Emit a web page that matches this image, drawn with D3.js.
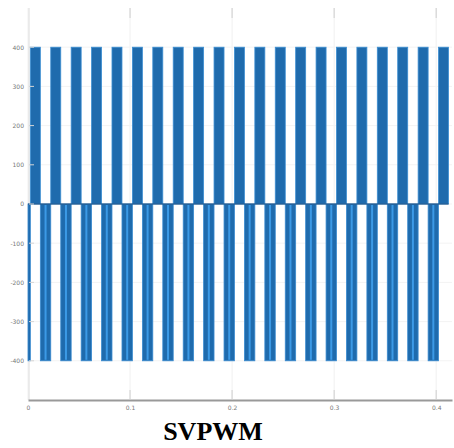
<!DOCTYPE html>
<html>
<head>
<meta charset="utf-8">
<script src="https://cdn.jsdelivr.net/npm/d3@7/dist/d3.min.js"></script>
<style>
  html, body { margin: 0; padding: 0; background: #fff; }
  svg { display: block; }
</style>
</head>
<body>
<svg id="chart" width="454" height="448"></svg>
<script>
// ---- data ----
// switching instants (s) of the square-wave inverter output
const switchTimes = [
  0.0000, 0.0023, 0.0121, 0.0223, 0.0321, 0.0423, 0.0521, 0.0623, 0.0721, 0.0823, 0.0921,
  0.1023, 0.1121, 0.1223, 0.1321, 0.1423, 0.1521, 0.1623, 0.1721, 0.1823, 0.1921,
  0.2023, 0.2121, 0.2223, 0.2321, 0.2423, 0.2521, 0.2623, 0.2721, 0.2823, 0.2921,
  0.3023, 0.3121, 0.3223, 0.3321, 0.3423, 0.3521, 0.3623, 0.3721, 0.3823, 0.3921,
  0.4023, 0.4121
];
// voltage level held from each switching instant to the next (V)
const levels = [
  -400, 400, -400, 400, -400, 400, -400, 400, -400, 400, -400,
  400, -400, 400, -400, 400, -400, 400, -400, 400, -400,
  400, -400, 400, -400, 400, -400, 400, -400, 400, -400,
  400, -400, 400, -400, 400, -400, 400, -400, 400, -400,
  400
];
const xTicks = [0, 0.1, 0.2, 0.3, 0.4];
const xTickLabels = ["0", "0.1", "0.2", "0.3", "0.4"];
const yTicks = [400, 300, 200, 100, 0, -100, -200, -300, -400];
const yTickLabels = ["400", "300", "200", "100", "0", "-100", "-200", "-300", "-400"];
const titleText = "SVPWM";

(function () {
// ---- layout ----
const svg = d3.select("#chart");
const mLeft = 28, mRight = 452, mTop = 8, mBottom = 400;
const x = d3.scaleLinear().domain([0, 0.4155]).range([mLeft, mRight]);
const y = d3.scaleLinear().domain([-500, 500]).range([mBottom, mTop]);

// grid
const grid = svg.append("g");
grid.selectAll("line.vg").data(xTicks).join("line")
  .attr("x1", d => x(d)).attr("x2", d => x(d))
  .attr("y1", mTop).attr("y2", mBottom)
  .attr("stroke", "#f0f0f0").attr("stroke-width", 1);
grid.selectAll("line.hg").data(yTicks).join("line")
  .attr("x1", mLeft).attr("x2", mRight)
  .attr("y1", d => y(d)).attr("y2", d => y(d))
  .attr("stroke", "#f3f3f3").attr("stroke-width", 1);

// left border
svg.append("line")
  .attr("x1", mLeft + 1).attr("x2", mLeft + 1)
  .attr("y1", mTop).attr("y2", mBottom)
  .attr("stroke", "#dcdcdc");

// segments
const segs = levels.map((v, i) => ({ t0: switchTimes[i], t1: switchTimes[i + 1], v }));
const marks = svg.append("g");
const pos = segs.filter(s => s.v > 0), neg = segs.filter(s => s.v < 0);

marks.selectAll("rect.pos").data(pos).join("rect")
  .attr("x", d => x(d.t0)).attr("width", d => x(d.t1) - x(d.t0))
  .attr("y", d => y(d.v)).attr("height", d => y(0) - y(d.v))
  .attr("fill", "#1f6bad").attr("stroke", "#3d8fd3").attr("stroke-width", 0.8);

marks.selectAll("rect.neg").data(neg).join("rect")
  .attr("x", d => x(d.t0)).attr("width", d => Math.max(0.8, x(d.t1) - x(d.t0)))
  .attr("y", y(0)).attr("height", d => y(d.v) - y(0))
  .attr("fill", "#1f6bad").attr("stroke", "#3a8bd0").attr("stroke-width", 0.8);

// light centre stripe in negative pulses
marks.selectAll("rect.stripe").data(neg.filter(d => d.t1 - d.t0 > 0.005)).join("rect")
  .attr("x", d => (x(d.t0) + x(d.t1)) / 2 - 1)
  .attr("width", 2)
  .attr("y", y(0) + 1).attr("height", d => y(d.v) - y(0) - 2)
  .attr("fill", "#3c9ae6");

// zero line
svg.append("line")
  .attr("x1", x(0)).attr("x2", x(switchTimes[switchTimes.length - 1]))
  .attr("y1", y(0)).attr("y2", y(0))
  .attr("stroke", "#1d4f80").attr("stroke-width", 1);

// bottom axis
const xAxis = d3.axisBottom(x).tickValues(xTicks)
  .tickFormat((d, i) => xTickLabels[i]).tickSize(0).tickPadding(6);
const gx = svg.append("g").attr("transform", `translate(0,${mBottom})`).call(xAxis);
gx.select(".domain").attr("stroke", "#999").attr("stroke-width", 2);
gx.selectAll("text").attr("font-family", "DejaVu Sans").attr("font-size", 6).attr("fill", "#777");

// inner tick marks top and bottom
svg.append("g").selectAll("line").data(xTicks.slice(1)).join("line")
  .attr("x1", d => x(d)).attr("x2", d => x(d))
  .attr("y1", mBottom - 10).attr("y2", mBottom)
  .attr("stroke", "#d0d0d0");
svg.append("g").selectAll("line").data(xTicks.slice(1)).join("line")
  .attr("x1", d => x(d)).attr("x2", d => x(d))
  .attr("y1", mTop).attr("y2", mTop + 10)
  .attr("stroke", "#cfcfcf");

// left axis
const yAxis = d3.axisLeft(y).tickValues(yTicks)
  .tickFormat((d, i) => yTickLabels[i]).tickSize(0).tickPadding(4);
const gy = svg.append("g").attr("transform", `translate(${mLeft},0)`).call(yAxis);
gy.select(".domain").remove();
gy.selectAll("text").attr("font-family", "DejaVu Sans").attr("font-size", 6).attr("fill", "#777");

// small inner y tick marks
svg.append("g").selectAll("line").data(yTicks).join("line")
  .attr("x1", mLeft + 1).attr("x2", mLeft + 6)
  .attr("y1", d => y(d)).attr("y2", d => y(d))
  .attr("stroke", "#d5d5d5");

// title
svg.append("text")
  .attr("x", 213).attr("y", 440)
  .attr("text-anchor", "middle")
  .attr("font-family", "Liberation Serif")
  .attr("font-weight", "bold")
  .attr("font-size", 26)
  .attr("fill", "#000")
  .text(titleText);
})();
</script>
</body>
</html>
